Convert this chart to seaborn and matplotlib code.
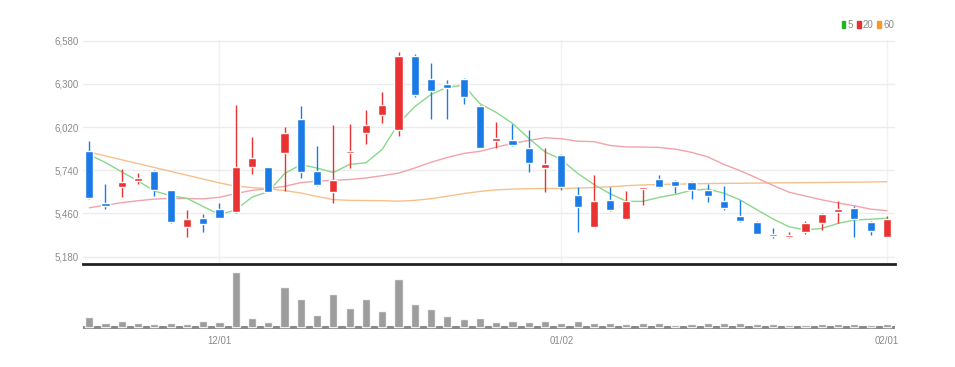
import matplotlib
matplotlib.use("Agg")
import matplotlib.pyplot as plt
from matplotlib.patches import Patch
import numpy as np
import pandas as pd
import seaborn as sns

# daily candles (50 trading days)
opens = [5863, 5525, 5632, 5669, 5738, 5609, 5372, 5432, 5490, 5471,
         5761, 5759, 5854, 6072, 5733, 5602, 5852, 5981, 6097, 6003,
         6483, 6330, 6302, 6332, 6154, 5932, 5934, 5882, 5755, 5841,
         5578, 5372, 5550, 5425, 5619, 5684, 5669, 5667, 5609, 5540,
         5447, 5406, 5329, 5309, 5341, 5400, 5471, 5497, 5408, 5309]
highs = [5932, 5652, 5749, 5723, 5744, 5613, 5481, 5458, 5529, 6164,
         5953, 5759, 6022, 6156, 5899, 6035, 6039, 6132, 6246, 6509,
         6494, 6434, 6326, 6337, 6165, 6050, 6039, 6003, 5884, 5845,
         5632, 5712, 5632, 5606, 5632, 5712, 5675, 5673, 5654, 5637,
         5546, 5410, 5367, 5337, 5410, 5462, 5540, 5507, 5410, 5442]
lows = [5557, 5492, 5565, 5654, 5572, 5400, 5307, 5339, 5428, 5465,
        5716, 5598, 5604, 5690, 5641, 5529, 5755, 5912, 6046, 5960,
        6214, 6072, 6070, 6169, 5884, 5884, 5895, 5727, 5598, 5615,
        5339, 5372, 5479, 5425, 5515, 5624, 5591, 5557, 5533, 5481,
        5404, 5324, 5303, 5299, 5328, 5350, 5400, 5307, 5320, 5309]
closes = [5561, 5507, 5662, 5688, 5613, 5404, 5425, 5395, 5432, 5759,
          5820, 5600, 5979, 5727, 5645, 5677, 5863, 6031, 6164, 6477,
          6229, 6255, 6272, 6216, 5884, 5947, 5901, 5785, 5781, 5632,
          5503, 5540, 5481, 5538, 5630, 5632, 5637, 5615, 5576, 5497,
          5410, 5329, 5312, 5320, 5397, 5458, 5492, 5422, 5346, 5427]
volumes = [30, 13, 18, 13, 9, 13, 9, 18, 15, 165,
           28, 15, 120, 85, 35, 100, 58, 84, 48, 145,
           68, 53, 33, 25, 28, 17, 18, 17, 18, 13,
           18, 12, 12, 9, 13, 13, 6, 10, 13, 13,
           12, 9, 9, 7, 7, 10, 10, 10, 7, 9]

# moving average values before enough days are on screen
ma5_head = [5841, 5790, 5730, 5670]
ma20_head = [5497, 5514, 5530, 5543, 5553, 5558, 5557, 5555, 5565, 5589,
             5610, 5621, 5636, 5660, 5670, 5675, 5680, 5690, 5705]
ma60 = [5858, 5833, 5808, 5783, 5758, 5733, 5708, 5683, 5658, 5637,
        5628, 5621, 5608, 5593, 5570, 5550, 5545, 5544, 5543, 5540,
        5545, 5556, 5572, 5589, 5603, 5613, 5618, 5621, 5622, 5622,
        5625, 5628, 5633, 5640, 5645, 5648, 5650, 5652, 5654, 5655,
        5656, 5657, 5658, 5659, 5660, 5661, 5662, 5663, 5664, 5666]

price_ticks = [5180, 5460, 5740, 6020, 6300, 6580]
date_pos = [8, 29, 49]
date_labels = ["12/01", "01/02", "02/01"]

df = pd.DataFrame({"open": opens, "high": highs, "low": lows,
                   "close": closes, "volume": volumes})
df["day"] = np.arange(len(df))
ma5 = df["close"].rolling(5).mean().to_numpy()
ma5[:len(ma5_head)] = ma5_head
ma20 = df["close"].rolling(20).mean().to_numpy()
ma20[:len(ma20_head)] = ma20_head
df["ma5"] = ma5
df["ma20"] = ma20
df["ma60"] = ma60

sns.set_style("white")
plt.rcParams["font.family"] = ["Liberation Sans", "DejaVu Sans"]
FS = 7

UP = "#ea3232"
DOWN = "#1b7be6"

fig = plt.figure(figsize=(9.55, 3.67), dpi=100)
ax = fig.add_axes([0.0866, 0.2807, 0.8506, 0.6104])
axv = fig.add_axes([0.0866, 0.103, 0.8506, 0.1722])

# moving averages
sns.lineplot(data=df, x="day", y="ma60", ax=ax, color="#f6c08c", lw=1.0, zorder=2)
sns.lineplot(data=df, x="day", y="ma20", ax=ax, color="#f2a3aa", lw=1.0, zorder=2)
sns.lineplot(data=df, x="day", y="ma5", ax=ax, color="#8ad88a", lw=1.0, zorder=2)

# candles
up = df["close"] >= df["open"]
colors = np.where(up, UP, DOWN)
body_lo = np.minimum(df["open"], df["close"])
body_h = np.maximum((df["close"] - df["open"]).abs(), 8)
ax.vlines(df["day"], df["low"], df["high"], colors=colors, lw=1, zorder=3)
ax.bar(df["day"], body_h, bottom=body_lo, width=0.5, color=colors, zorder=4)

ax.set_xlim(-0.4, 49.5)
ax.set_ylim(5133, 6584)
ax.set_yticks(price_ticks, [f"{v:,}" for v in price_ticks])
ax.set_xticks(date_pos, [])
ax.grid(axis="y", color="#ececec", lw=1)
ax.grid(axis="x", color="#f2f2f2", lw=1)
ax.tick_params(axis="y", length=0, pad=3, labelsize=FS, labelcolor="#8a8a8a")
ax.tick_params(axis="x", length=0)
ax.set_xlabel("")
ax.set_ylabel("")
for s in ["top", "right", "left"]:
    ax.spines[s].set_visible(False)
ax.spines["bottom"].set_color("#222222")
ax.spines["bottom"].set_linewidth(2)

# volume
axv.axhline(0, color="#8a8a8a", lw=2.2, zorder=1)
sns.barplot(data=df, x="day", y="volume", ax=axv, color="#8c8c8c",
            width=0.5, native_scale=True, saturation=1, alpha=0.85, zorder=2)
axv.set_xlim(-0.4, 49.5)
axv.set_ylim(-6, 183)
axv.set_yticks([])
axv.set_xticks(date_pos, date_labels)
axv.tick_params(axis="x", length=6, width=1, color="#333333", pad=2,
                labelsize=FS, labelcolor="#8a8a8a", direction="inout")
axv.set_xlabel("")
axv.set_ylabel("")
for s in axv.spines.values():
    s.set_visible(False)

handles = [Patch(color="#22b522"), Patch(color="#e8302f"), Patch(color="#f59a2a")]
fig.legend(handles, ["5", "20", "60"], loc="center right",
           bbox_to_anchor=(0.936, 0.932), ncol=3, frameon=False,
           handlelength=0.4, handleheight=0.8, handletextpad=0.2,
           columnspacing=0.4, fontsize=FS, labelcolor="#8a8a8a",
           borderaxespad=0, borderpad=0)

fig.savefig("out.png", dpi=100)
